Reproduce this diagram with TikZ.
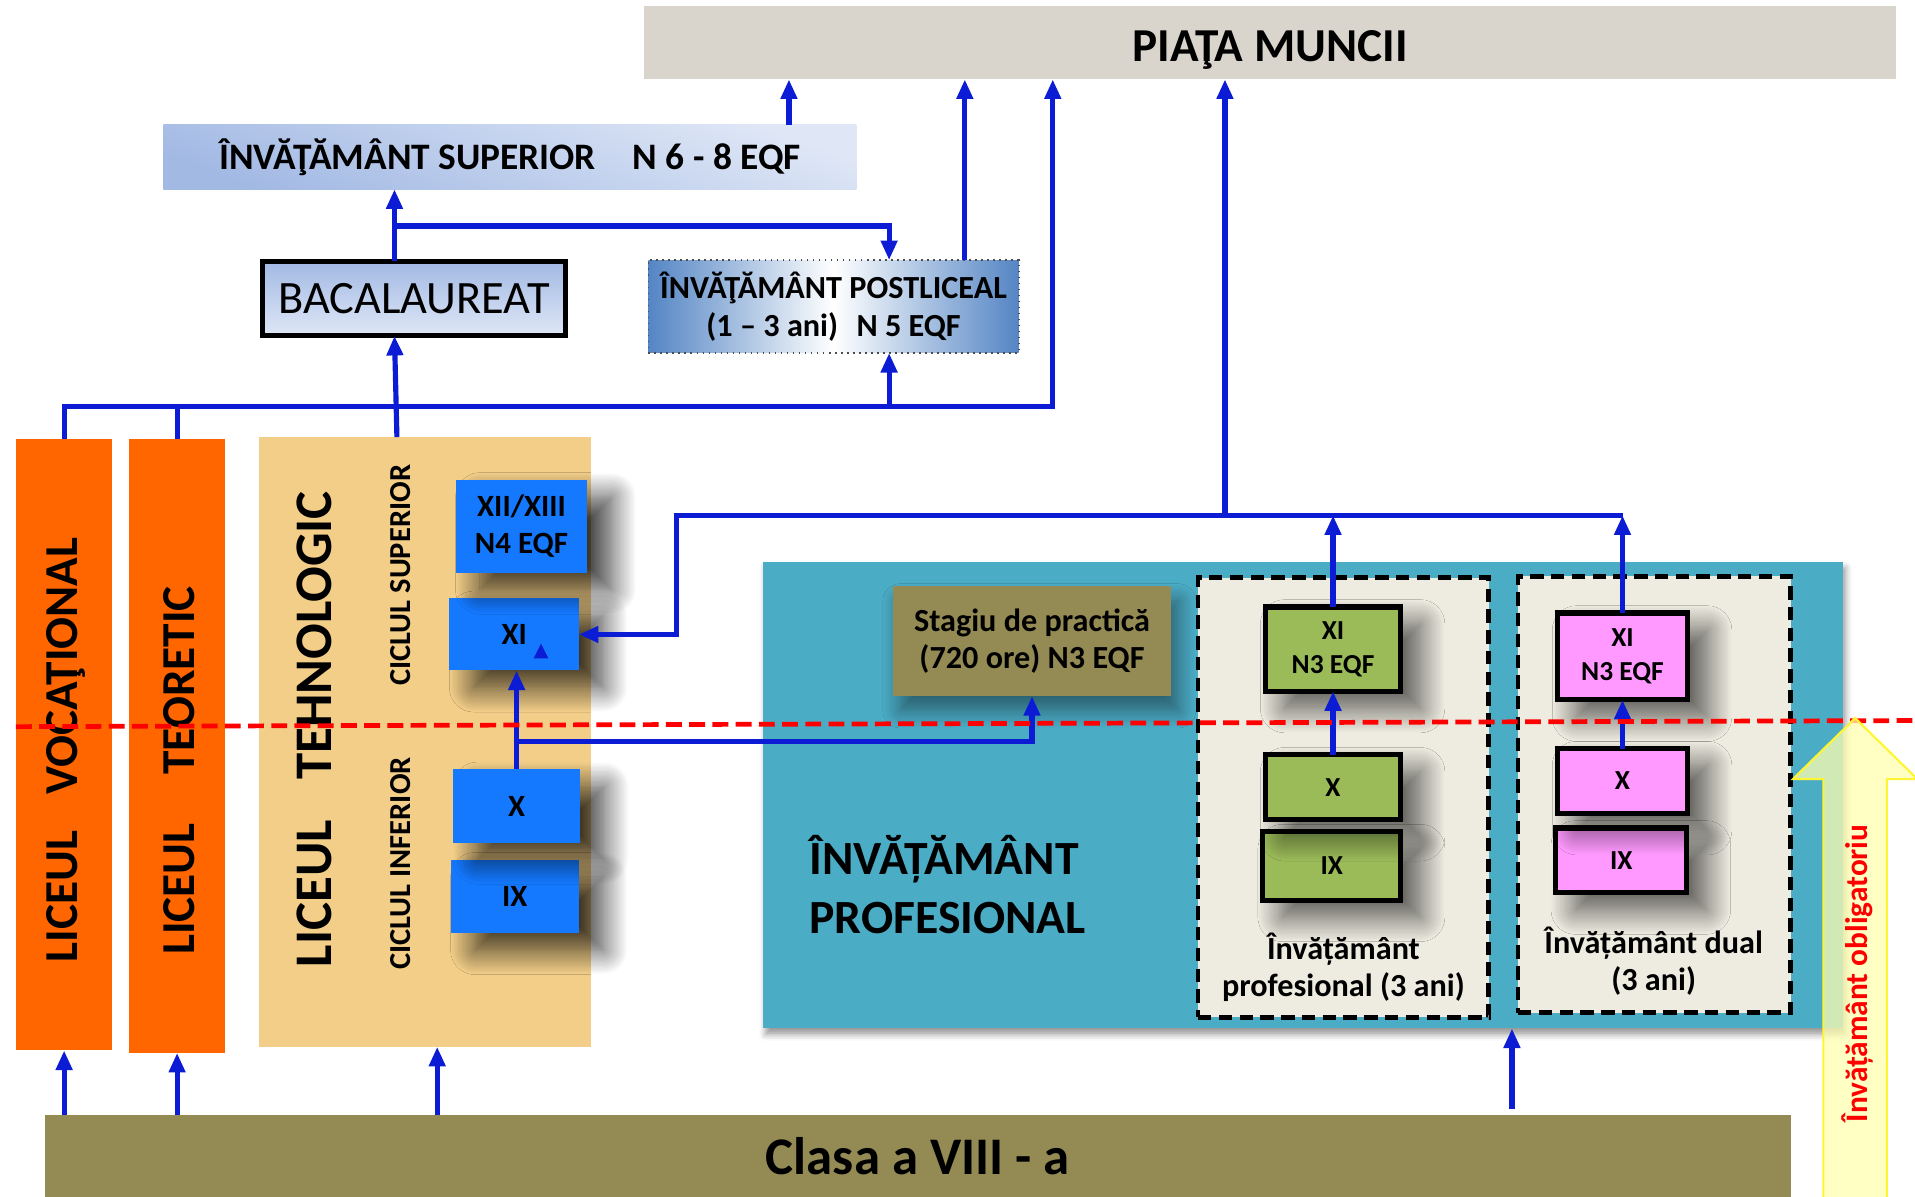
\documentclass[tikz,border=0pt]{standalone}
\usepackage{fontspec}
\setmainfont{Carlito}
\usetikzlibrary{arrows.meta,shadows.blur}
\def\fsz#1#2{\fontsize{#1}{#2}\selectfont}

\definecolor{linkblue}{HTML}{0B1CD4}
\definecolor{piatagray}{HTML}{D9D5CD}
\definecolor{supdark}{HTML}{A2B9E4}
\definecolor{suplight}{HTML}{DFE7F6}
\definecolor{postblue}{HTML}{5485C4}
\definecolor{lyceorange}{HTML}{FF6600}
\definecolor{tehnosand}{HTML}{F2CE88}
\definecolor{gradeblue}{HTML}{1479FF}
\definecolor{profteal}{HTML}{4BACC6}
\definecolor{clasaolive}{HTML}{948A54}
\definecolor{paper}{HTML}{EEECE1}
\definecolor{profgreen}{HTML}{9BBB59}
\definecolor{dualpink}{HTML}{FF99FF}
\definecolor{mustyellow}{HTML}{FFFFB0}

\tikzset{
	box/.style={inner sep=0pt, outer sep=0pt, align=center},
	gradebox/.style={box, fill=gradeblue, font=\fsz{7.2}{8.6}\bfseries,
		blur shadow={shadow xshift=0.2cm, shadow yshift=-0.14cm, shadow blur radius=0.2cm, shadow blur steps=20, shadow opacity=75}},
	yearbox/.style={box, draw=black, line width=1.2pt, font=\fsz{6.4}{8}\bfseries,
		blur shadow={shadow xshift=0.16cm, shadow yshift=-0.14cm, shadow blur radius=0.2cm, shadow blur steps=20, shadow opacity=65}},
	tracebox/.style={box, fill=paper, draw=black, line width=1.1pt, dash pattern=on 0.11cm off 0.06cm},
	sidetext/.style={inner sep=0pt, rotate=90, font=\bfseries},
	conn/.style={draw=linkblue, line width=1.2pt},
	arr/.style={conn, -{Triangle[length=0.16cm, width=0.13cm]}},
	redline/.style={draw=red, line width=1.1pt, dash pattern=on 0.13cm off 0.06cm},
}

\begin{document}
\begin{tikzpicture}[x=0.01cm, y=-0.01cm]
		%%%%% START %%%%%
		\useasboundingbox (0,0) rectangle (1568,980);
		
		% top row
		\node[box, fill=piatagray, minimum width=10.24cm, minimum height=0.6cm, text height=0.31cm, text depth=0pt, font=\fsz{11}{13}\bfseries] (piata) at (1040,35) {PIAŢA MUNCII};
		\node[box, top color=suplight, bottom color=supdark, shading angle=-20,
			minimum width=5.67cm, minimum height=0.53cm, font=\fsz{8.7}{10}\bfseries] (sup) at (417.5,128.5) {ÎNVĂŢĂMÂNT SUPERIOR\hspace{0.3cm}N 6 - 8 EQF};
		\node[box, top color=supdark, bottom color=suplight, draw=black, line width=1.2pt,
			minimum width=2.48cm, minimum height=0.61cm, font=\fsz{10.8}{13}] (bac) at (339,244.5) {BACALAUREAT};
		\node[box, left color=postblue, right color=postblue, middle color=white, draw=black!70, line width=0.4pt, densely dotted,
			minimum width=3.03cm, minimum height=0.76cm, font=\fsz{7.5}{8.8}\bfseries] (post) at (682.5,251) {ÎNVĂŢĂMÂNT POSTLICEAL\\(1 -- 3 ani)\hspace{0.15cm}N 5 EQF};
		
		% licee
		\node[box, fill=lyceorange, minimum width=0.79cm, minimum height=5cm] (voc) at (52.5,610) {};
		\node[box, fill=lyceorange, minimum width=0.78cm, minimum height=5.02cm] (teor) at (145,611) {};
		\node[box, fill=tehnosand, minimum width=2.72cm, minimum height=4.99cm] (tehno) at (348,607.5) {};
		\node[sidetext, font=\fsz{11}{13}\bfseries] (voclbl) at (54,614) {LICEUL\hspace{0.3cm}VOCAŢIONAL};
		\node[sidetext, font=\fsz{11}{13}\bfseries] (teorlbl) at (147,631) {LICEUL\hspace{0.4cm}TEORETIC};
		\node[sidetext, font=\fsz{12.3}{14}\bfseries] (tehnolbl) at (257,597) {LICEUL\hspace{0.33cm}TEHNOLOGIC};
		\node[sidetext, font=\fsz{7.1}{8}\bfseries] (suplbl) at (328,471) {CICLUL SUPERIOR};
		\node[sidetext, font=\fsz{7.1}{8}\bfseries] (inflbl) at (328,707) {CICLUL INFERIOR};
		
		\node[gradebox, minimum width=1.05cm, minimum height=0.6cm] (ix) at (421.5,734) {IX};
		\node[gradebox, minimum width=1.04cm, minimum height=0.6cm] (x) at (423,660) {X};
		\node[gradebox, minimum width=1.06cm, minimum height=0.59cm] (xi) at (421,519.5) {XI};
		\node[gradebox, minimum width=1.08cm, minimum height=0.76cm] (xii) at (427,431) {XII/XIII\\N4 EQF};
		\fill[linkblue] (437,539) -- (449,539) -- (443,527) -- cycle;
		
		% profesional
		\node[box, fill=profteal, minimum width=8.84cm, minimum height=3.82cm,
			blur shadow={shadow xshift=0.02cm, shadow yshift=-0.05cm, shadow blur radius=0.05cm, shadow opacity=40}] (prof) at (1067,651) {};
		\node[box, fill=clasaolive, minimum width=2.28cm, minimum height=0.9cm, font=\fsz{7.5}{8.8}\bfseries,
			blur shadow={shadow xshift=0.06cm, shadow yshift=-0.12cm, shadow blur radius=0.14cm, shadow blur steps=15, shadow opacity=45}] (stagiu) at (845,525) {Stagiu de practică\\(720 ore) N3 EQF};
		\node[anchor=west, align=left, inner sep=0pt, font=\fsz{11.1}{13.7}\bfseries] (proflbl) at (662,724) {ÎNVĂȚĂMÂNT\\PROFESIONAL};
		\node[tracebox, minimum width=2.38cm, minimum height=3.6cm] (dprof) at (1100,653) {};
		\node[tracebox, minimum width=2.23cm, minimum height=3.57cm] (ddual) at (1354.5,650.5) {};
		
		\node[yearbox, fill=profgreen, minimum width=1.13cm, minimum height=0.56cm] (gix) at (1090.5,709) {IX};
		\node[yearbox, fill=profgreen, minimum width=1.11cm, minimum height=0.53cm] (gx) at (1091.5,644.5) {X};
		\node[yearbox, fill=profgreen, minimum width=1.11cm, minimum height=0.69cm] (gxi) at (1091.5,531.5) {XI\\N3 EQF};
		\node[yearbox, fill=dualpink, minimum width=1.07cm, minimum height=0.53cm] (pix) at (1327.5,704.5) {IX};
		\node[yearbox, fill=dualpink, minimum width=1.07cm, minimum height=0.53cm] (px) at (1328.5,639.5) {X};
		\node[yearbox, fill=dualpink, minimum width=1.07cm, minimum height=0.71cm] (pxi) at (1328.5,537.5) {XI\\N3 EQF};
		\node[inner sep=0pt, align=center, font=\fsz{7.5}{8.8}\bfseries] (dproflbl) at (1100,792) {Învățământ\\profesional (3 ani)};
		\node[inner sep=0pt, align=center, font=\fsz{7.5}{8.8}\bfseries] (dduallbl) at (1354,787) {Învățământ dual\\(3 ani)};
		
		% bottom
		\node[box, fill=clasaolive, minimum width=14.29cm, minimum height=0.67cm, font=\fsz{12.3}{14}\bfseries] (clasa) at (751.5,946.5) {Clasa a VIII - a};
		
		% connectors
		\coordinate (bacsplit) at (323,185);
		\coordinate (bus) at (862,333);
		\coordinate (bus2) at (1003,422);
		\coordinate (xsplit) at (423,607);
		\coordinate (dualin) at (1238,908);
		
		\draw[arr] (646,0|-sup.north) -- (646,0|-piata.south);
		\draw[arr] (323,0|-bac.north) -- (323,0|-sup.south);
		\draw[arr] (bacsplit) -| (728,0|-post.north);
		\draw[arr] (790,0|-post.north) -- (790,0|-piata.south);
		\draw[arr] (voc.north) |- (bus) -- (bus|-piata.south);
		\draw[conn] (teor.north) -- (teor.north|-bus);
		\draw[arr] (325,0|-tehno.north) -- (323,0|-bac.south);
		\draw[arr] (728,0|-bus) -- (728,0|-post.south);
		
		\draw[arr] (voc.south|-clasa.north) -- (voc.south);
		\draw[arr] (teor.south|-clasa.north) -- (teor.south);
		\draw[arr] (358,0|-clasa.north) -- (358,0|-tehno.south);
		\draw[arr] (dualin) -- (dualin|-prof.south);
		
		\draw[arr] (x.north) -- (x.north|-xi.south);
		\draw[arr] (xsplit) -| (stagiu.south);
		\draw[arr] (pxi.north|-bus2) -- (554,0|-bus2) |- (xi.east);
		\draw[arr] (bus2) -- (bus2|-piata.south);
		\draw[arr] (gxi.north) -- (gxi.north|-bus2);
		\draw[arr] (pxi.north) -- (pxi.north|-bus2);
		\draw[arr] (gx.north) -- (gx.north|-gxi.south);
		\draw[arr] (px.north) -- (px.north|-pxi.south);
		
		\draw[redline] (13,595) -- (1568,590);
		
		% obligatoriu
		\draw[draw=yellow!80!white, line width=0.5pt, fill=mustyellow, fill opacity=0.75]
			(1493,990) -- (1493,638) -- (1468,638) -- (1519,588) -- (1570,638) -- (1545,638) -- (1545,990) -- cycle;
		\node[sidetext, text=red, font=\fsz{7.3}{8}\bfseries] (obliglbl) at (1521,797) {Învățământ obligatoriu};
		
		%%%%% END %%%%%
	\end{tikzpicture}
\end{document}
